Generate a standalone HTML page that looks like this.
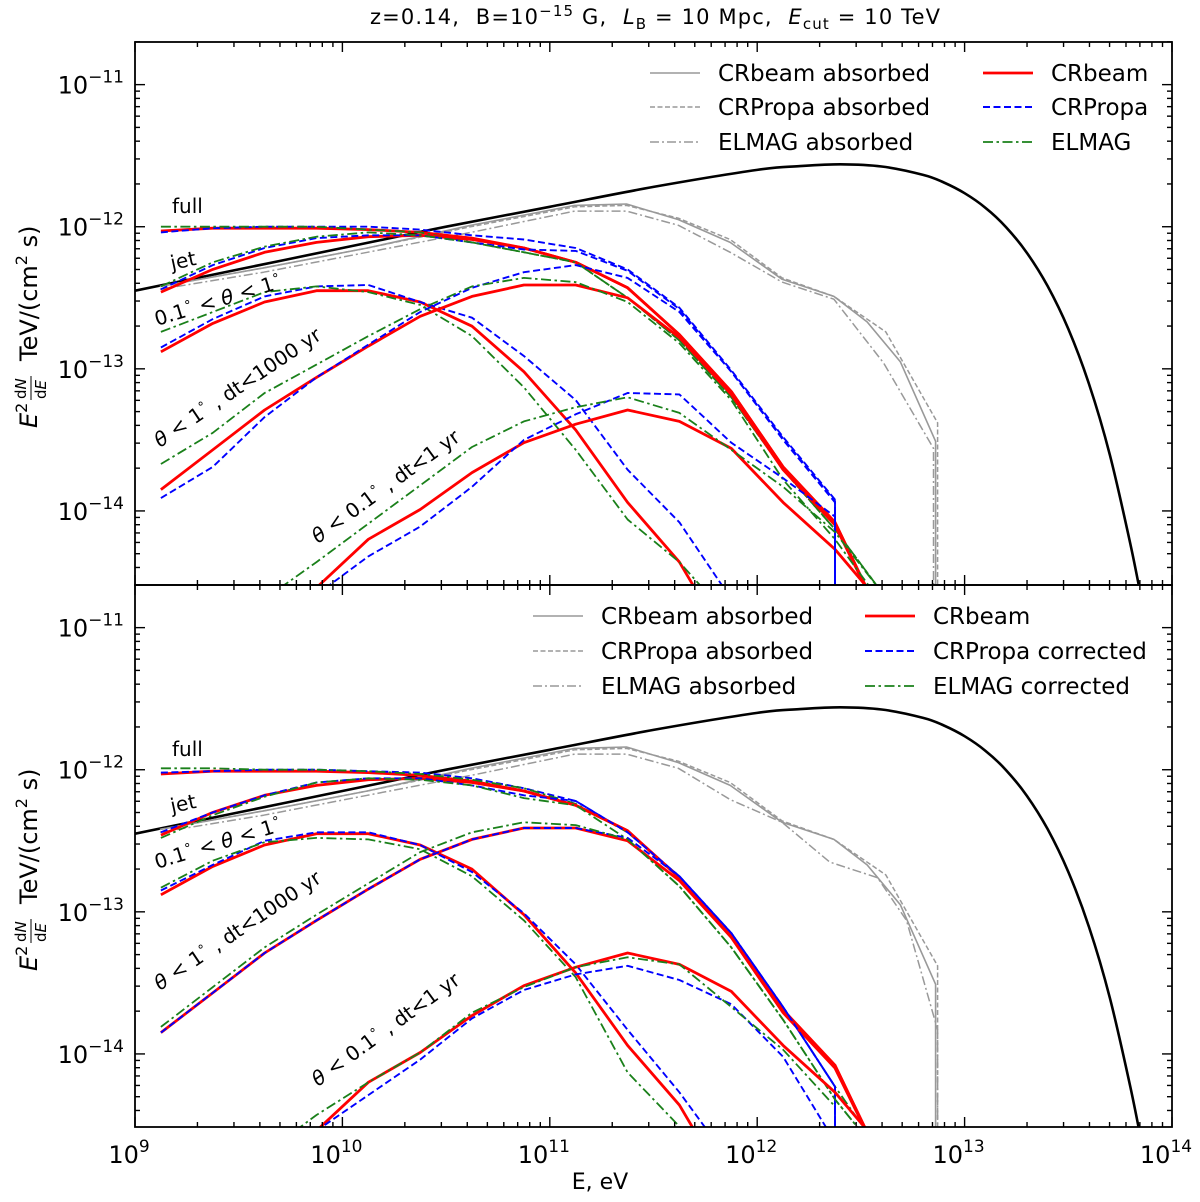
<!DOCTYPE html>
<html><head><meta charset="utf-8"><style>
html,body{margin:0;padding:0;background:#fff;overflow:hidden;width:1200px;height:1202px;position:relative;}
svg{display:block;position:absolute;left:0;top:0;font-family:"DejaVu Sans","Liberation Sans",sans-serif;}
</style></head><body>
<svg id="chart" width="1200" height="1202" viewBox="0 0 1200 1202" xmlns="http://www.w3.org/2000/svg">
<rect x="0" y="0" width="1200" height="1202" fill="#fff"/>
<text x="370" y="24" font-size="21" textLength="570" lengthAdjust="spacing" xml:space="preserve">z=0.14,  B=10<tspan dy="-8" font-size="15">−15</tspan><tspan dy="8"> G,  </tspan><tspan font-style="italic">L</tspan><tspan dy="5" font-size="15">B</tspan><tspan dy="-5"> = 10 Mpc,  </tspan><tspan font-style="italic">E</tspan><tspan dy="5" font-size="15">cut</tspan><tspan dy="-5"> = 10 TeV</tspan></text>
<defs>
<clipPath id="clipTop"><rect x="135" y="42" width="1037" height="543"/></clipPath>
<clipPath id="clipBot"><rect x="135" y="585" width="1037" height="542"/></clipPath>
</defs>
<g id="plots"></g>
<text x="600" y="1189" font-size="22" text-anchor="middle">E, eV</text>
</svg>
<script>
// ---- data (log10 E [eV], log10 E^2 dN/dE [TeV cm^-2 s^-1]) ----
const energyGrid = [9.125,9.375,9.625,9.875,10.125,10.375,10.625,10.875,11.125,11.375,11.625,11.875,12.125,12.375,12.625];
const xTickLabels = ["9","10","11","12","13","14"];
const yTickLabels = ["−11","−12","−13","−14"];

const blackE = [9.0,9.5,10.0,10.5,11.0,11.5,12.0,12.2,12.4,12.6,12.8,12.9,13.0,13.1,13.2,13.3,13.4,13.5,13.6,13.7,13.8,13.87];
const blackF = [-12.45,-12.30,-12.15,-12.00,-11.86,-11.72,-11.60,-11.574,-11.561,-11.576,-11.635,-11.689,-11.764,-11.866,-12.003,-12.183,-12.417,-12.719,-13.107,-13.604,-14.237,-14.75];

const graySolidE = [9.12,9.62,10.12,10.62,11.12,11.37,11.62,11.87,12.12,12.37,12.53,12.69,12.86,12.86];
const graySolidF = [-12.42,-12.29,-12.15,-11.99,-11.85,-11.84,-11.95,-12.11,-12.37,-12.49,-12.67,-12.95,-13.51,-16];
const grayDashE = [9.12,9.62,10.12,10.62,11.12,11.37,11.62,11.87,12.12,12.37,12.62,12.87,12.87];
const grayDashF = [-12.42,-12.29,-12.15,-12.00,-11.86,-11.85,-11.94,-12.09,-12.36,-12.49,-12.74,-13.38,-16];
const grayDotTopE = [9.12,9.62,10.12,10.62,11.12,11.37,11.62,11.87,12.12,12.37,12.61,12.85,12.85];
const grayDotTopF = [-12.44,-12.32,-12.18,-12.04,-11.89,-11.89,-11.99,-12.18,-12.39,-12.51,-12.96,-13.56,-16];
const grayDotBotE = [9.12,9.62,10.12,10.62,11.12,11.37,11.62,11.87,12.12,12.35,12.58,12.72,12.87,12.87];
const grayDotBotF = [-12.44,-12.32,-12.18,-12.04,-11.89,-11.89,-11.99,-12.21,-12.37,-12.65,-12.76,-13.06,-13.83,-16];

// CRbeam (identical in both panels)
const redFull  = [-12.03,-12.01,-12.01,-12.01,-12.02,-12.04,-12.08,-12.15,-12.25,-12.43,-12.76,-13.16,-13.69,-14.08,-14.84];
const redJet   = [-12.46,-12.30,-12.18,-12.11,-12.07,-12.06,-12.09,-12.15,-12.25,-12.43,-12.76,-13.16,-13.69,-14.08,-14.84];
const redRing  = [-12.88,-12.68,-12.53,-12.45,-12.45,-12.53,-12.70,-13.02,-13.43,-13.94,-14.36,-14.98];
const redCone  = [-13.85,-13.57,-13.29,-13.06,-12.84,-12.63,-12.49,-12.41,-12.41,-12.50,-12.78,-13.18,-13.71,-14.10,-14.84];
const redNarrow= [-15.61,-15.26,-14.91,-14.54,-14.20,-13.99,-13.73,-13.52,-13.39,-13.29,-13.37,-13.56,-13.94,-14.27,-14.70];

// top panel: CRPropa / ELMAG
const blueFullTop  = [-12.04,-12.01,-12.00,-12.00,-12.00,-12.02,-12.06,-12.09,-12.15,-12.30,-12.57,-13.01,-13.48,-13.92];
const blueJetTop   = [-12.44,-12.27,-12.15,-12.08,-12.06,-12.06,-12.11,-12.16,-12.17,-12.31,-12.58,-13.02,-13.49,-13.93];
const blueRingTop  = [-12.85,-12.65,-12.49,-12.42,-12.41,-12.53,-12.64,-12.91,-13.22,-13.71,-14.08,-14.62];
const blueConeTop  = [-13.91,-13.69,-13.34,-13.06,-12.83,-12.60,-12.43,-12.32,-12.27,-12.36,-12.60,-13.02,-13.50,-13.94];
const blueNarrowTop= [-15.61,-15.26,-14.91,-14.59,-14.32,-14.11,-13.83,-13.50,-13.32,-13.17,-13.18,-13.52,-13.77,-14.04];
const greenFullTop  = [-12.00,-12.00,-12.00,-12.00,-12.02,-12.04,-12.11,-12.18,-12.25,-12.50,-12.80,-13.20,-13.71,-14.13,-14.62];
const greenJetTop   = [-12.42,-12.25,-12.14,-12.07,-12.04,-12.06,-12.11,-12.18,-12.25,-12.50,-12.80,-13.20,-13.71,-14.13,-14.62];
const greenRingTop  = [-12.74,-12.60,-12.46,-12.42,-12.46,-12.55,-12.77,-13.13,-13.57,-14.06,-14.36,-14.77];
const greenConeTop  = [-13.67,-13.45,-13.17,-12.97,-12.77,-12.58,-12.42,-12.36,-12.39,-12.53,-12.82,-13.22,-13.78,-14.20,-14.70];
const greenNarrowTop= [-15.19,-14.91,-14.62,-14.36,-14.09,-13.82,-13.55,-13.37,-13.27,-13.20,-13.31,-13.57,-13.83,-14.15,-14.62];

// bottom panel: corrected
const blueFullBot  = [-12.02,-12.01,-12.00,-12.00,-12.01,-12.02,-12.06,-12.13,-12.22,-12.44,-12.75,-13.15,-13.67,-14.23];
const blueJetBot   = [-12.44,-12.30,-12.18,-12.09,-12.06,-12.06,-12.11,-12.18,-12.22,-12.44,-12.75,-13.15,-13.67,-14.23];
const blueRingBot  = [-12.85,-12.67,-12.50,-12.44,-12.44,-12.53,-12.72,-13.01,-13.37,-13.83,-14.27,-14.77];
const blueConeBot  = [-13.85,-13.57,-13.29,-13.06,-12.84,-12.63,-12.49,-12.41,-12.41,-12.48,-12.75,-13.15,-13.67,-14.23];
const blueNarrowBot= [-15.61,-15.26,-14.91,-14.54,-14.29,-14.04,-13.75,-13.55,-13.44,-13.38,-13.48,-13.65,-14.02,-14.62];
const greenFullBot  = [-11.99,-11.99,-12.00,-12.00,-12.01,-12.03,-12.07,-12.13,-12.24,-12.44,-12.75,-13.15,-13.67,-14.23,-14.75];
const greenJetBot   = [-12.48,-12.32,-12.19,-12.09,-12.06,-12.07,-12.11,-12.20,-12.25,-12.49,-12.82,-13.25,-13.76,-14.32,-14.77];
const greenRingBot  = [-12.83,-12.64,-12.51,-12.48,-12.49,-12.56,-12.75,-13.06,-13.46,-14.13,-14.51,-14.98];
const greenConeBot  = [-13.81,-13.53,-13.25,-13.02,-12.80,-12.58,-12.44,-12.37,-12.39,-12.49,-12.82,-13.25,-13.76,-14.32,-14.77];
const greenNarrowBot= [-15.26,-14.98,-14.70,-14.43,-14.20,-13.99,-13.71,-13.53,-13.39,-13.32,-13.37,-13.67,-13.97,-14.37];

// ---- rendering ----
const NS = "http://www.w3.org/2000/svg";
const root = document.getElementById('plots');
const X0 = 135, X1 = 1172, DEC = (X1 - X0) / 5;
const LOGTOP = -10.70, PXDEC = 142.1;
function xScale(logE){ return X0 + (logE - 9) * DEC; }
function yScale(logF, top){ return top + (LOGTOP - logF) * PXDEC; }
function mk(tag, attrs, parent){ const e = document.createElementNS(NS, tag); for (const k in attrs) e.setAttribute(k, attrs[k]); (parent||root).appendChild(e); return e; }

const STY = {
  red:{stroke:'#ff0000',w:2.8,dash:''},
  blue:{stroke:'#0000ff',w:1.9,dash:'7,3.5'},
  green:{stroke:'#1a801a',w:1.8,dash:'10,3.5,2.5,3.5'},
  gsol:{stroke:'#999999',w:1.6,dash:''},
  gdash:{stroke:'#999999',w:1.5,dash:'5,2.5'},
  gdot:{stroke:'#999999',w:1.5,dash:'9,3,2,3'},
  black:{stroke:'#000000',w:2.6,dash:''}
};

// clip a polyline to y <= yMax (keeps geometry inside the frame)
function clipBelow(pts, yMax){
  const runs = []; let cur = [];
  for (let i = 0; i < pts.length; i++){
    const p = pts[i];
    if (i > 0){
      const q = pts[i-1];
      const qin = q[1] <= yMax, pin = p[1] <= yMax;
      if (qin !== pin){
        const t = (yMax - q[1]) / (p[1] - q[1]);
        const ip = [q[0] + t*(p[0]-q[0]), yMax];
        if (qin){ cur.push(ip); runs.push(cur); cur = []; }
        else { cur = [ip]; }
      }
    }
    if (p[1] <= yMax) cur.push(p);
  }
  if (cur.length) runs.push(cur);
  return runs.filter(r => r.length > 1);
}

function drawSeries(g, xs, ys, top, sty, name, drop){
  const pts = [];
  for (let i = 0; i < ys.length; i++) pts.push([xScale(xs[i]), yScale(ys[i], top)]);
  if (drop) pts.push([pts[pts.length-1][0], yScale(-16, top)]);
  const runs = clipBelow(pts, top + 546);
  runs.forEach(r => {
    const p = mk('polyline', {points: r.map(p => p[0].toFixed(1)+','+p[1].toFixed(1)).join(' '), fill:'none', stroke:sty.stroke, 'stroke-width':sty.w, 'stroke-dasharray':sty.dash, 'stroke-linejoin':'round'}, g);
    
    
  });
}
function drawSmooth(g, xs, ys, top, sty, name){
  const P = xs.map((x,i)=>[xScale(x), yScale(ys[i], top)]);
  let d = 'M'+P[0][0].toFixed(1)+','+P[0][1].toFixed(1);
  for (let i = 0; i < P.length-1; i++){
    const p0 = P[Math.max(0,i-1)], p1 = P[i], p2 = P[i+1], p3 = P[Math.min(P.length-1,i+2)];
    const c1 = [p1[0]+(p2[0]-p0[0])/6, p1[1]+(p2[1]-p0[1])/6];
    const c2 = [p2[0]-(p3[0]-p1[0])/6, p2[1]-(p3[1]-p1[1])/6];
    d += ' C'+c1[0].toFixed(1)+','+c1[1].toFixed(1)+' '+c2[0].toFixed(1)+','+c2[1].toFixed(1)+' '+p2[0].toFixed(1)+','+p2[1].toFixed(1);
  }
  const p = mk('path', {d:d, fill:'none', stroke:sty.stroke, 'stroke-width':sty.w}, g);
  
  
}

function axes(top, h, panelName){
  const g = mk('g', {});
  
  
  const bot = top + h;
  for (let d = 9; d <= 14; d++){
    for (let k = 1; k <= 9; k++){
      if (d === 14 && k > 1) break;
      const x = xScale(d + Math.log10(k));
      const L = k === 1 ? 10 : 5;
      mk('line', {x1:x, y1:bot, x2:x, y2:bot-L, stroke:'#000', 'stroke-width':1.4}, g);
      mk('line', {x1:x, y1:top, x2:x, y2:top+L, stroke:'#000', 'stroke-width':1.4}, g);
    }
  }
  for (let d = -15; d <= -10; d++){
    for (let k = 1; k <= 9; k++){
      const lf = d + Math.log10(k);
      const y = yScale(lf, top);
      if (y < top - 0.5 || y > bot + 0.5) continue;
      const L = k === 1 ? 10 : 5;
      mk('line', {x1:X0, y1:y, x2:X0+L, y2:y, stroke:'#000', 'stroke-width':1.4}, g);
      mk('line', {x1:X1, y1:y, x2:X1-L, y2:y, stroke:'#000', 'stroke-width':1.4}, g);
    }
  }
  for (let i = 0; i < yTickLabels.length; i++){
    const y = yScale(-11 - i, top);
    const t = mk('text', {x:124, y:y+9, 'font-size':24, 'text-anchor':'end'}, g);
    
    
    t.innerHTML = '10<tspan dy="-11" font-size="17">' + yTickLabels[i] + '</tspan>';
  }
  mk('rect', {x:X0, y:top, width:X1-X0, height:h, fill:'none', stroke:'#000', 'stroke-width':1.8}, g);
  const cy = top + 273;
  const yt = mk('g', {transform:'translate(37,'+cy+') rotate(-90)'}, g);
  
  
  const t1 = mk('text', {x:-113, y:0, 'font-size':24}, yt);
  t1.innerHTML = '<tspan font-style="italic">E</tspan><tspan dy="-10" font-size="16">2</tspan>';
  const f1 = mk('text', {x:-84, y:-11, 'font-size':15}, yt);
  f1.innerHTML = 'd<tspan font-style="italic">N</tspan>';
  mk('line', {x1:-85, y1:-6, x2:-61, y2:-6, stroke:'#000', 'stroke-width':1}, yt);
  const f2 = mk('text', {x:-84, y:9, 'font-size':15}, yt);
  f2.innerHTML = 'd<tspan font-style="italic">E</tspan>';
  const t2 = mk('text', {x:-46, y:0, 'font-size':24}, yt);
  t2.innerHTML = 'TeV/(cm<tspan dy="-10" font-size="16">2</tspan><tspan dy="10"> s)</tspan>';
}

function panel(top, h, clip, cfg){
  const g = mk('g', {'clip-path':'url(#'+clip+')'});
  
  
  drawSmooth(g, blackE, blackF, top, STY.black, 'full-intrinsic-curve');
  drawSeries(g, graySolidE, graySolidF, top, STY.gsol, 'crbeam-absorbed-line', false);
  drawSeries(g, grayDashE, grayDashF, top, STY.gdash, 'crpropa-absorbed-line', false);
  drawSeries(g, cfg.gdE, cfg.gdF, top, STY.gdot, 'elmag-absorbed-line', false);
  const groups = [
    ['full', cfg.gFull, cfg.bFull, redFull],
    ['jet', cfg.gJet, cfg.bJet, redJet],
    ['ring', cfg.gRing, cfg.bRing, redRing],
    ['cone-1000yr', cfg.gCone, cfg.bCone, redCone],
    ['narrow-1yr', cfg.gNarrow, cfg.bNarrow, redNarrow]
  ];
  groups.forEach(gr => {
    drawSeries(g, energyGrid, gr[3], top, STY.red, 'crbeam-' + gr[0] + '-line', false);
    drawSeries(g, energyGrid, gr[2], top, STY.blue, 'crpropa-' + gr[0] + '-line', gr[0] !== 'ring');
    drawSeries(g, energyGrid, gr[1], top, STY.green, 'elmag-' + gr[0] + '-line', false);
  });
  axes(top, h, cfg.name);
  const ann = [
    ['full-label', 172, top+171, 0, 'full'],
    ['jet-label', 172, top+228, -12, 'jet'],
    ['ring-label', 157, top+284, -17, '0.1<tspan dy="-10" font-size="13">∘</tspan><tspan dy="10"> &lt; </tspan><tspan font-style="italic">θ</tspan> &lt; 1<tspan dy="-10" font-size="13">∘</tspan>'],
    ['cone-label', 160, top+406, -34, '<tspan font-style="italic">θ</tspan> &lt; 1<tspan dy="-10" font-size="13">∘</tspan><tspan dy="10"> , dt&lt;1000 yr</tspan>'],
    ['narrow-label', 318, top+502, -36, '<tspan font-style="italic">θ</tspan> &lt; 0.1<tspan dy="-10" font-size="13">∘</tspan><tspan dy="10"> , dt&lt;1 yr</tspan>']
  ];
  ann.forEach(a => {
    const t = mk('text', {x:a[1], y:a[2], 'font-size':20, transform:'rotate('+a[3]+' '+a[1]+' '+a[2]+')'});
    
    
    t.innerHTML = a[4];
  });
  const lg = mk('g', {});
  
  
  cfg.legend.forEach(e => {
    const s = STY[e.s];
    mk('line', {x1:e.x, y1:e.y, x2:e.x+50, y2:e.y, stroke:s.stroke, 'stroke-width':s.w, 'stroke-dasharray':s.dash}, lg);
    const t = mk('text', {x:e.x+68, y:e.y+8, 'font-size':23}, lg);
    
    
    t.textContent = e.t;
  });
}

panel(42, 543, 'clipTop', {name:'top-panel', gdE:grayDotTopE, gdF:grayDotTopF,
  gFull:greenFullTop, bFull:blueFullTop, gJet:greenJetTop, bJet:blueJetTop, gRing:greenRingTop, bRing:blueRingTop,
  gCone:greenConeTop, bCone:blueConeTop, gNarrow:greenNarrowTop, bNarrow:blueNarrowTop,
  legend:[{x:650,y:73,s:'gsol',t:'CRbeam absorbed'},{x:650,y:107,s:'gdash',t:'CRPropa absorbed'},{x:650,y:142,s:'gdot',t:'ELMAG absorbed'},
          {x:983,y:73,s:'red',t:'CRbeam'},{x:983,y:107,s:'blue',t:'CRPropa'},{x:983,y:142,s:'green',t:'ELMAG'}]});
panel(585, 542, 'clipBot', {name:'bottom-panel', gdE:grayDotBotE, gdF:grayDotBotF,
  gFull:greenFullBot, bFull:blueFullBot, gJet:greenJetBot, bJet:blueJetBot, gRing:greenRingBot, bRing:blueRingBot,
  gCone:greenConeBot, bCone:blueConeBot, gNarrow:greenNarrowBot, bNarrow:blueNarrowBot,
  legend:[{x:533,y:616,s:'gsol',t:'CRbeam absorbed'},{x:533,y:651,s:'gdash',t:'CRPropa absorbed'},{x:533,y:686,s:'gdot',t:'ELMAG absorbed'},
          {x:865,y:616,s:'red',t:'CRbeam'},{x:865,y:651,s:'blue',t:'CRPropa corrected'},{x:865,y:686,s:'green',t:'ELMAG corrected'}]});

for (let i = 0; i < xTickLabels.length; i++){
  const x = xScale(9 + i);
  const t = mk('text', {x:x-6, y:1163, 'font-size':24, 'text-anchor':'middle'});
  
  
  t.innerHTML = '10<tspan dy="-11" font-size="17">' + xTickLabels[i] + '</tspan>';
}
</script>
</body></html>
